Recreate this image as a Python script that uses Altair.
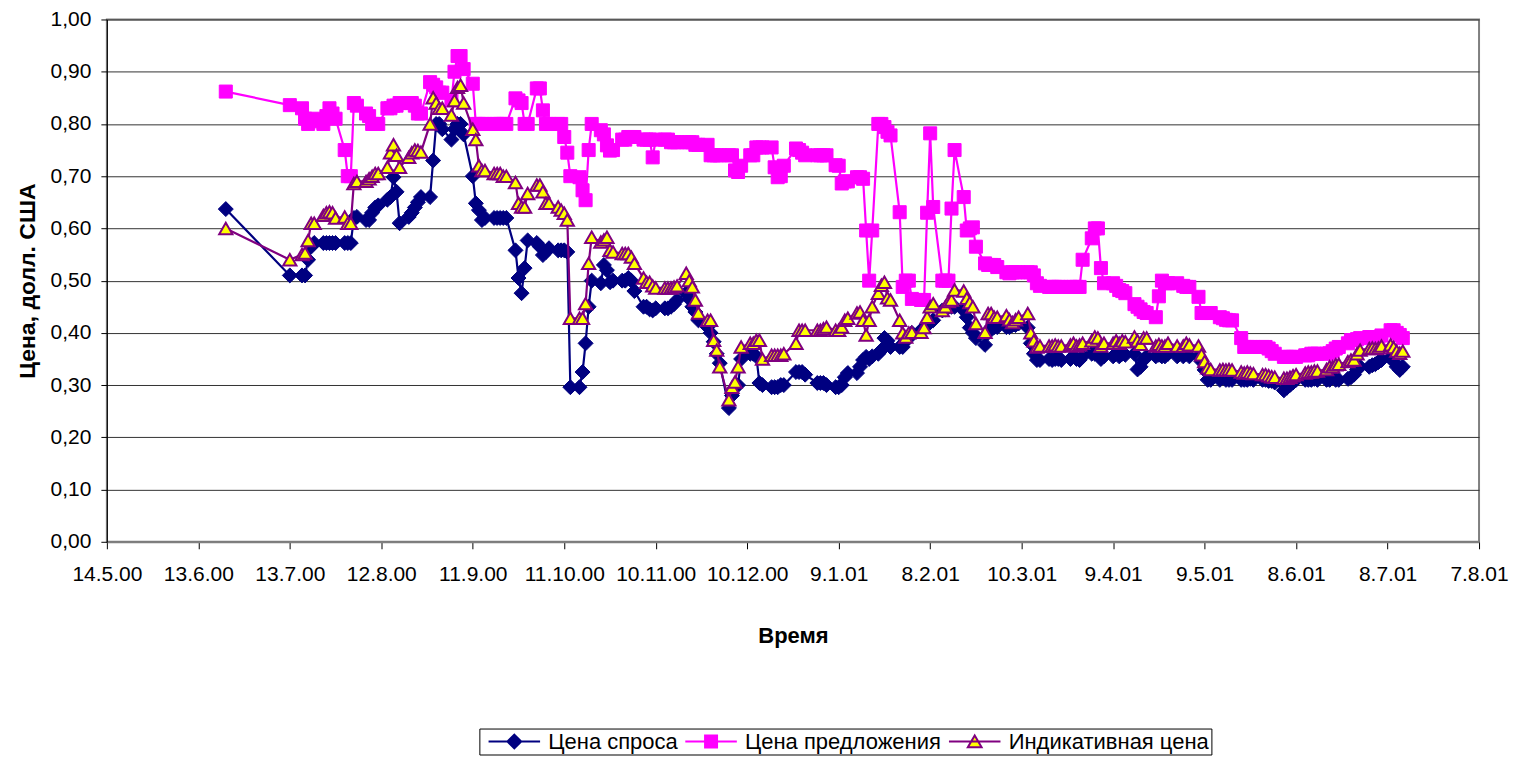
import altair as alt
import pandas as pd

SERIES = ["Цена спроса", "Цена предложения", "Индикативная цена"]
LINE_COLORS = ["#000080", "#FF00FF", "#800080"]
FILL_COLORS = ["#000080", "#FF00FF", "#FFFF00"]
SHAPES = ["diamond", "square", "triangle-up"]
LEGEND_PATHS = [
    "M-4.3,0H4.3M0,-1.15L1.15,0L0,1.15L-1.15,0Z",
    "M-4.3,0H4.3M-1,-1H1V1H-1Z",
    "M-4.3,0H4.3M0,-1L1.15,0.95H-1.15Z",
]

X_TICKS = ["14.5.00", "13.6.00", "13.7.00", "12.8.00", "11.9.00", "11.10.00",
           "10.11.00", "10.12.00", "9.1.01", "8.2.01", "10.3.01", "9.4.01",
           "9.5.01", "8.6.01", "8.7.01", "7.8.01"]
Y_TICKS = [0.0, 0.1, 0.2, 0.3, 0.4, 0.5, 0.6, 0.7, 0.8, 0.9, 1.0]

# trading days (month.year -> days)
MONTH_DAYS = [
    ("06.00", [22]),
    ("07.00", [13, 17, 18, 19, 20, 21, 24, 25, 26, 27, 28, 31]),
    ("08.00", [1, 2, 3, 4, 7, 8, 9, 10, 11, 14, 15, 16, 17, 18, 21, 22, 23, 24, 25, 28, 29, 30, 31]),
    ("09.00", [1, 4, 5, 6, 7, 8, 11, 12, 13, 14, 15, 18, 19, 20, 21, 22, 25, 26, 27, 28, 29]),
    ("10.00", [2, 3, 4, 5, 6, 9, 10, 11, 12, 13, 16, 17, 18, 19, 20, 23, 24, 25, 26, 27, 30, 31]),
    ("11.00", [1, 2, 3, 6, 7, 8, 9, 10, 13, 14, 15, 16, 17, 20, 21, 22, 23, 24, 27, 28, 29, 30]),
    ("12.00", [1, 4, 5, 6, 7, 8, 11, 12, 13, 14, 15, 18, 19, 20, 21, 22, 26, 27, 28, 29]),
    ("01.01", [2, 3, 4, 5, 8, 9, 10, 11, 12, 15, 16, 17, 18, 19, 20, 22, 23, 24, 25, 26, 29, 30, 31]),
    ("02.01", [1, 2, 5, 6, 7, 8, 9, 12, 13, 14, 15, 16, 19, 20, 21, 22, 23, 26, 27, 28]),
    ("03.01", [1, 2, 5, 6, 7, 8, 9, 12, 13, 14, 15, 16, 19, 20, 21, 22, 23, 26, 27, 28, 29, 30]),
    ("04.01", [2, 3, 4, 5, 6, 9, 10, 11, 12, 13, 16, 17, 18, 19, 20, 23, 24, 25, 26, 27, 30]),
    ("05.01", [2, 3, 4, 7, 8, 9, 10, 11, 14, 15, 16, 17, 18, 21, 22, 23, 24, 25, 28, 29, 30, 31]),
    ("06.01", [1, 4, 5, 6, 7, 8, 11, 12, 13, 14, 15, 18, 19, 20, 21, 22, 25, 26, 27, 28, 29]),
    ("07.01", [2, 3, 4, 5, 6, 9, 10, 11, 12, 13]),
]

BID = [
    0.637,
    0.510, 0.510, 0.510, 0.540, 0.565, 0.572, 0.572, 0.572, 0.572, 0.572, 0.572, 0.572,
    0.572, 0.572, 0.620, 0.622, 0.616, 0.616, 0.630, 0.640, 0.644, 0.655, 0.660, 0.698, 0.670, 0.610, 0.622, 0.630, 0.640, 0.650, 0.660, 0.660, 0.730, 0.800, 0.800,
    0.790, 0.770, 0.790, 0.800, 0.800, 0.780, 0.700, 0.648, 0.635, 0.616, 0.620, 0.620, 0.620, 0.620, 0.620, 0.620, 0.558, 0.505, 0.476, 0.524, 0.577,
    0.572, 0.565, 0.549, 0.555, 0.562, 0.558, 0.558, 0.558, 0.555, 0.296, 0.296, 0.325, 0.380, 0.450, 0.500, 0.495, 0.530, 0.520, 0.497, 0.500, 0.500, 0.500,
    0.505, 0.500, 0.480, 0.450, 0.450, 0.445, 0.443, 0.447, 0.447, 0.447, 0.450, 0.455, 0.463, 0.476, 0.465, 0.450, 0.440, 0.424, 0.411, 0.400, 0.383, 0.360,
    0.342, 0.256, 0.280, 0.296, 0.300, 0.350, 0.360, 0.360, 0.355, 0.304, 0.300, 0.296, 0.296, 0.296, 0.300, 0.300, 0.325, 0.325, 0.325, 0.320,
    0.304, 0.304, 0.304, 0.300, 0.296, 0.296, 0.300, 0.315, 0.323, 0.323, 0.335, 0.348, 0.354, 0.350, 0.355, 0.360, 0.367, 0.390, 0.385, 0.373, 0.373, 0.373, 0.386,
    0.390, 0.400, 0.405, 0.410, 0.415, 0.420, 0.424, 0.443, 0.445, 0.450, 0.450, 0.450, 0.443, 0.430, 0.410, 0.400, 0.390, 0.377, 0.400, 0.411,
    0.411, 0.411, 0.411, 0.411, 0.415, 0.415, 0.418, 0.410, 0.380, 0.360, 0.348, 0.348, 0.350, 0.348, 0.350, 0.350, 0.348, 0.350, 0.355, 0.350, 0.348, 0.355,
    0.360, 0.360, 0.360, 0.350, 0.355, 0.355, 0.360, 0.355, 0.360, 0.358, 0.360, 0.330, 0.335, 0.348, 0.355, 0.355, 0.358, 0.355, 0.355, 0.360, 0.355,
    0.355, 0.360, 0.355, 0.355, 0.345, 0.329, 0.310, 0.310, 0.310, 0.315, 0.310, 0.310, 0.310, 0.310, 0.310, 0.310, 0.312, 0.310, 0.310, 0.310, 0.308, 0.308,
    0.305, 0.290, 0.295, 0.300, 0.305, 0.310, 0.310, 0.310, 0.310, 0.312, 0.310, 0.310, 0.310, 0.315, 0.310, 0.310, 0.312, 0.315, 0.320, 0.330, 0.335,
    0.335, 0.338, 0.340, 0.344, 0.348, 0.352, 0.345, 0.335, 0.329, 0.335,
]

ASK = [
    0.862,
    0.836, 0.830, 0.810, 0.800, 0.805, 0.810, 0.800, 0.815, 0.830, 0.820, 0.810, 0.750,
    0.700, 0.700, 0.840, 0.835, 0.820, 0.815, 0.800, 0.800, 0.800, 0.830, 0.830, 0.835, 0.835, 0.840, 0.840, 0.840, 0.835, 0.820, 0.820, 0.880, 0.875, 0.870, 0.860,
    0.860, 0.845, 0.900, 0.930, 0.930, 0.905, 0.877, 0.800, 0.800, 0.800, 0.800, 0.800, 0.800, 0.800, 0.800, 0.800, 0.849, 0.845, 0.840, 0.800, 0.800,
    0.868, 0.868, 0.826, 0.800, 0.800, 0.800, 0.800, 0.775, 0.745, 0.700, 0.698, 0.673, 0.654, 0.750, 0.800, 0.788, 0.780, 0.759, 0.749, 0.750, 0.770, 0.770,
    0.775, 0.775, 0.775, 0.770, 0.770, 0.770, 0.736, 0.770, 0.770, 0.770, 0.765, 0.765, 0.765, 0.765, 0.765, 0.765, 0.760, 0.760, 0.760, 0.740, 0.740, 0.740,
    0.740, 0.740, 0.740, 0.711, 0.708, 0.720, 0.740, 0.740, 0.755, 0.755, 0.755, 0.755, 0.717, 0.698, 0.700, 0.720, 0.753, 0.750, 0.745, 0.740,
    0.740, 0.740, 0.740, 0.740, 0.721, 0.720, 0.686, 0.690, 0.690, 0.698, 0.698, 0.695, 0.596, 0.500, 0.596, 0.800, 0.800, 0.794, 0.785, 0.778, 0.631, 0.488, 0.500,
    0.500, 0.465, 0.463, 0.463, 0.630, 0.782, 0.641, 0.500, 0.500, 0.500, 0.638, 0.750, 0.660, 0.596, 0.600, 0.602, 0.565, 0.533, 0.530, 0.530,
    0.530, 0.526, 0.516, 0.514, 0.516, 0.516, 0.516, 0.516, 0.516, 0.510, 0.495, 0.490, 0.488, 0.488, 0.488, 0.488, 0.488, 0.488, 0.488, 0.488, 0.488, 0.540,
    0.581, 0.600, 0.600, 0.524, 0.495, 0.495, 0.490, 0.482, 0.480, 0.476, 0.455, 0.450, 0.445, 0.440, 0.438, 0.430, 0.470, 0.500, 0.495, 0.495, 0.495,
    0.490, 0.488, 0.488, 0.469, 0.438, 0.438, 0.438, 0.438, 0.430, 0.428, 0.425, 0.424, 0.424, 0.390, 0.373, 0.373, 0.373, 0.373, 0.373, 0.373, 0.370, 0.365,
    0.360, 0.354, 0.354, 0.354, 0.354, 0.354, 0.357, 0.357, 0.360, 0.360, 0.360, 0.360, 0.361, 0.365, 0.370, 0.373, 0.380, 0.386, 0.386, 0.388, 0.390,
    0.392, 0.392, 0.392, 0.392, 0.395, 0.405, 0.405, 0.400, 0.396, 0.390,
]

IND = [
    0.600,
    0.540, 0.550, 0.553, 0.577, 0.610, 0.610, 0.625, 0.630, 0.632, 0.630, 0.620, 0.622,
    0.610, 0.610, 0.686, 0.690, 0.690, 0.695, 0.700, 0.705, 0.705, 0.717, 0.745, 0.760, 0.740, 0.717, 0.736, 0.745, 0.750, 0.749, 0.746, 0.800, 0.850, 0.840, 0.830,
    0.830, 0.817, 0.845, 0.870, 0.874, 0.840, 0.790, 0.770, 0.720, 0.711, 0.711, 0.705, 0.705, 0.705, 0.700, 0.700, 0.688, 0.648, 0.641, 0.641, 0.667,
    0.683, 0.683, 0.670, 0.648, 0.648, 0.641, 0.635, 0.629, 0.616, 0.428, 0.428, 0.428, 0.456, 0.533, 0.583, 0.574, 0.578, 0.583, 0.558, 0.555, 0.552, 0.552,
    0.552, 0.545, 0.533, 0.505, 0.497, 0.497, 0.490, 0.486, 0.486, 0.486, 0.486, 0.488, 0.490, 0.514, 0.500, 0.488, 0.463, 0.438, 0.424, 0.424, 0.386, 0.367,
    0.335, 0.272, 0.296, 0.306, 0.335, 0.373, 0.380, 0.380, 0.386, 0.386, 0.350, 0.357, 0.357, 0.357, 0.357, 0.360, 0.380, 0.405, 0.405, 0.405,
    0.405, 0.405, 0.408, 0.411, 0.405, 0.405, 0.411, 0.424, 0.428, 0.438, 0.440, 0.424, 0.396, 0.424, 0.450, 0.476, 0.491, 0.497, 0.467, 0.463, 0.424, 0.400, 0.392,
    0.400, 0.401, 0.401, 0.410, 0.430, 0.450, 0.456, 0.443, 0.450, 0.460, 0.463, 0.482, 0.480, 0.466, 0.458, 0.450, 0.418, 0.401, 0.437, 0.437,
    0.430, 0.430, 0.433, 0.425, 0.420, 0.425, 0.430, 0.437, 0.400, 0.385, 0.373, 0.375, 0.375, 0.375, 0.377, 0.375, 0.375, 0.377, 0.380, 0.375, 0.377, 0.380,
    0.385, 0.392, 0.390, 0.375, 0.380, 0.380, 0.385, 0.380, 0.385, 0.383, 0.392, 0.385, 0.378, 0.390, 0.390, 0.375, 0.378, 0.375, 0.375, 0.380, 0.375,
    0.375, 0.380, 0.377, 0.375, 0.358, 0.345, 0.333, 0.330, 0.329, 0.330, 0.329, 0.330, 0.329, 0.325, 0.323, 0.325, 0.323, 0.322, 0.320, 0.320, 0.318, 0.316,
    0.315, 0.313, 0.313, 0.315, 0.318, 0.320, 0.323, 0.325, 0.325, 0.327, 0.327, 0.330, 0.335, 0.335, 0.339, 0.340, 0.345, 0.348, 0.348, 0.360, 0.367,
    0.370, 0.371, 0.370, 0.371, 0.375, 0.377, 0.372, 0.365, 0.361, 0.365,
]

DATES = [f"{d:02d}.{my}" for my, days in MONTH_DAYS for d in days]
assert len(DATES) == len(BID) == len(ASK) == len(IND), (len(DATES), len(BID), len(ASK), len(IND))

iso = pd.to_datetime(DATES, format="%d.%m.%y").strftime("%Y-%m-%d")
rows = []
for name, vals in zip(SERIES, [BID, ASK, IND]):
    for d, v in zip(iso, vals):
        rows.append({"date": d, "value": v, "series": name})
df = pd.DataFrame(rows)

tick_dt = pd.to_datetime(X_TICKS, format="%d.%m.%y")
tick_values = [alt.DateTime(year=int(t.year), month=int(t.month), date=int(t.day), utc=True) for t in tick_dt]

FONT = "Liberation Sans"

x_enc = alt.X(
    "date:T",
    scale=alt.Scale(type="utc", domain=[tick_values[0], tick_values[-1]]),
    axis=alt.Axis(
        values=tick_values,
        labelExpr="utcFormat(datum.value, '%-d.%-m.%y')",
        title="Время", grid=False, tickSize=7, tickColor="black",
        domainColor="#808080", domainWidth=2, labelPadding=15, titlePadding=41,
        labelFontSize=21, titleFontSize=22, titleFontWeight="bold",
        labelOverlap=False, labelFlush=False, labelColor="black", titleColor="black",
        labelFont=FONT, titleFont=FONT,
    ),
)
y_enc = alt.Y(
    "value:Q",
    scale=alt.Scale(domain=[0, 1], nice=False, zero=True),
    axis=alt.Axis(
        values=Y_TICKS,
        labelExpr="replace(format(datum.value, '.2f'), '.', ',')",
        title="Цена, долл. США", grid=True, gridColor="#333333", gridWidth=1,
        tickSize=6, tickColor="black", domainColor="black", domainWidth=1,
        labelPadding=10, titlePadding=11, labelFontSize=21, titleFontSize=23,
        titleFontWeight="bold", labelColor="black", titleColor="black",
        labelFont=FONT, titleFont=FONT,
    ),
)

legend = alt.Legend(
    title=None, orient="none", legendX=373, legendY=710, direction="horizontal",
    symbolSize=144, symbolStrokeWidth=2, symbolOffset=22, labelOffset=23,
    labelFont=FONT, labelFontSize=22, labelColor="black", labelLimit=400,
    strokeColor="black", fillColor="white", padding=2, columnPadding=-3,
    symbolOpacity=1,
)

stroke_scale = alt.Scale(domain=SERIES, range=LINE_COLORS)
fill_scale = alt.Scale(domain=SERIES, range=FILL_COLORS)
legend_shape_scale = alt.Scale(domain=SERIES, range=LEGEND_PATHS)

SIZES = [225, 170, 175]
STROKES = [1, 1, 2]

base = alt.Chart(df)
layers = []
for i, name in enumerate(SERIES):
    sub = base.transform_filter(alt.datum.series == name)
    layers.append(
        sub.mark_line(strokeWidth=2.2, color=LINE_COLORS[i]).encode(x=x_enc, y=y_enc)
    )
    layers.append(
        sub.mark_point(
            shape=SHAPES[i], filled=False, fill=FILL_COLORS[i], stroke=LINE_COLORS[i],
            size=SIZES[i], strokeWidth=STROKES[i], opacity=1,
        ).encode(x=x_enc, y=y_enc)
    )

# legend-only layer (no rows drawn; the legend comes from the scales' domains)
layers.append(
    base.transform_filter("false").mark_point(filled=False, opacity=1, size=144, strokeWidth=2).encode(
        x=x_enc, y=y_enc,
        fill=alt.Fill("series:N", scale=fill_scale, legend=legend),
        stroke=alt.Stroke("series:N", scale=stroke_scale, legend=legend),
        shape=alt.Shape("series:N", scale=legend_shape_scale, legend=legend),
    )
)

chart = alt.layer(*layers).properties(
    width=1374, height=523,
    autosize=alt.AutoSizeParams(type="none"),
    padding={"left": 99, "top": 11, "right": 30, "bottom": 216},
).configure(
    background="white", font=FONT,
).configure_view(
    stroke="#808080", strokeWidth=2,
)

chart.save("out.html", embed_options={"renderer": "svg", "actions": False})
